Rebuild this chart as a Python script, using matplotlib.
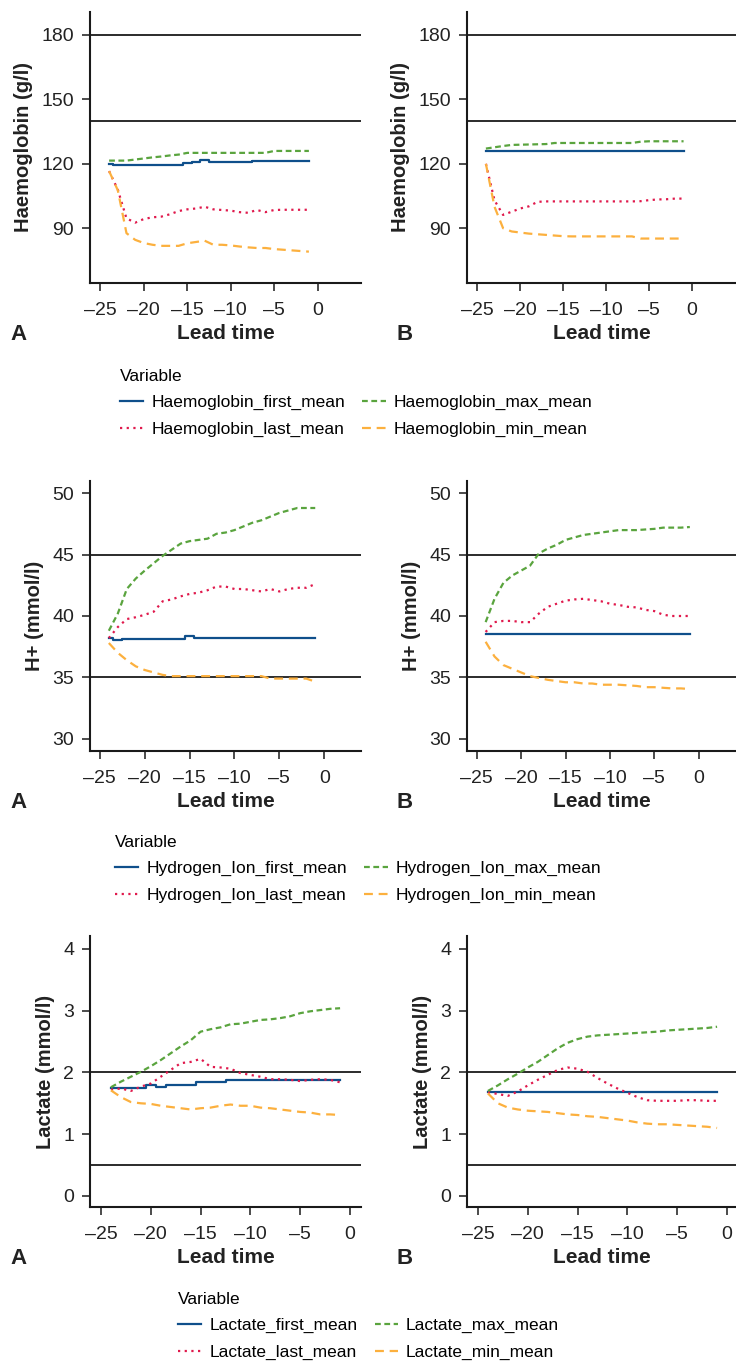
import matplotlib.pyplot as plt
import numpy as np

plt.rcParams['font.family'] = ['Liberation Sans', 'DejaVu Sans']

# données (heures avant l'événement)
lead_time = list(range(-24, 0))

# Haemoglobin, panneau A
hb_a_first = [120.0] + [119.4] * 8 + [120.2, 120.9, 121.7] + [120.8] * 5 + [121.5] * 7
hb_a_last = [116.6, 108.0, 94.6, 92.6, 94.3, 95.1, 95.4, 96.5, 98.0, 98.8, 99.2, 100.0,
             98.8, 98.5, 98.2, 97.5, 97.2, 98.5, 97.5, 98.5, 98.6, 98.6, 98.6, 98.6]
hb_a_max = [121.5, 121.5, 121.5, 122.0, 122.5, 123.0, 123.4, 123.9, 124.3, 125.1] + [125.1] * 9 + [126.0] * 5
hb_a_min = [116.6, 107.7, 87.7, 84.6, 83.1, 82.3, 81.8, 81.8, 81.8, 83.0, 83.6, 84.2,
            82.3, 82.3, 82.0, 81.5, 81.1, 80.8, 80.8, 80.3, 80.0, 79.7, 79.4, 79.1]
# Haemoglobin, panneau B
hb_b_first = [125.8] * 24
hb_b_last = [120.0, 103.0, 96.2, 97.7, 99.2, 100.2, 102.3] + [102.5] * 11 + [102.6, 103.1, 103.4, 103.5, 103.8, 103.8]
hb_b_max = [127.1, 127.7, 128.3, 128.8, 128.9, 129.0, 129.1, 129.2, 129.7] + [129.7] * 9 + [130.3] + [130.5] * 5
hb_b_min = [120.0, 100.0, 90.0, 88.5, 88.0, 87.5, 87.2, 86.9, 86.6, 86.3] + [86.2] * 8 + [85.2] * 6

# H+, panneau A
hp_a_first = [38.2, 38.05] + [38.15] * 7 + [38.35] + [38.2] * 14
hp_a_last = [38.2, 39.1, 39.75, 39.9, 40.1, 40.35, 41.2, 41.35, 41.6, 41.8, 41.9, 42.1,
             42.4, 42.4, 42.2, 42.2, 42.1, 42.0, 42.2, 42.0, 42.2, 42.3, 42.3, 42.6]
hp_a_max = [38.8, 40.2, 42.2, 43.05, 43.7, 44.3, 44.9, 45.4, 45.9, 46.1, 46.2, 46.3,
            46.7, 46.8, 47.0, 47.3, 47.6, 47.8, 48.1, 48.4, 48.6, 48.8, 48.8, 48.8]
hp_a_min = [37.8, 37.0, 36.4, 35.9, 35.6, 35.4, 35.2, 35.1] + [35.1] * 10 + [34.9] * 5 + [34.65]
# H+, panneau B
hp_b_first = [38.55] * 24
hp_b_last = [38.7, 39.5, 39.6, 39.6, 39.5, 39.5, 40.2, 40.75, 41.0, 41.25, 41.35, 41.4,
             41.3, 41.2, 41.0, 40.9, 40.75, 40.7, 40.5, 40.4, 40.1, 40.0, 40.0, 40.0]
hp_b_max = [39.5, 41.4, 42.7, 43.3, 43.7, 44.1, 45.1, 45.5, 45.8, 46.2, 46.4, 46.6,
            46.7, 46.8, 46.9, 47.0, 47.0, 47.0, 47.05, 47.1, 47.2, 47.2, 47.2, 47.25]
hp_b_min = [37.9, 36.7, 36.0, 35.7, 35.4, 35.1, 34.95, 34.8, 34.7, 34.6, 34.6, 34.5,
            34.5, 34.4, 34.4, 34.4, 34.35, 34.3, 34.2, 34.2, 34.15, 34.1, 34.1, 34.05]

# Lactate, panneau A
lac_a_first = [1.74, 1.75, 1.75, 1.75, 1.79, 1.77, 1.80, 1.80, 1.80, 1.84, 1.84, 1.84] + [1.88] * 12
lac_a_last = [1.72, 1.74, 1.70, 1.77, 1.82, 1.93, 2.04, 2.15, 2.17, 2.22, 2.09, 2.08,
              2.06, 1.99, 1.96, 1.93, 1.89, 1.89, 1.88, 1.86, 1.88, 1.89, 1.88, 1.84]
lac_a_max = [1.76, 1.85, 1.93, 2.01, 2.10, 2.20, 2.31, 2.42, 2.52, 2.66, 2.70, 2.73,
             2.78, 2.79, 2.82, 2.85, 2.86, 2.88, 2.91, 2.96, 2.99, 3.01, 3.03, 3.04]
lac_a_min = [1.71, 1.60, 1.52, 1.50, 1.49, 1.46, 1.44, 1.42, 1.40, 1.42, 1.43, 1.46,
             1.48, 1.46, 1.46, 1.43, 1.42, 1.40, 1.38, 1.36, 1.35, 1.32, 1.32, 1.31]
# Lactate, panneau B
lac_b_first = [1.68] * 24
lac_b_last = [1.68, 1.65, 1.62, 1.69, 1.79, 1.88, 1.96, 2.04, 2.08, 2.06, 2.01, 1.91,
              1.82, 1.74, 1.67, 1.60, 1.55, 1.54, 1.54, 1.54, 1.55, 1.55, 1.54, 1.54]
lac_b_max = [1.70, 1.79, 1.89, 1.98, 2.08, 2.17, 2.28, 2.39, 2.48, 2.54, 2.58, 2.60,
             2.61, 2.62, 2.63, 2.64, 2.65, 2.66, 2.68, 2.69, 2.70, 2.71, 2.72, 2.74]
lac_b_min = [1.66, 1.50, 1.43, 1.40, 1.38, 1.37, 1.36, 1.34, 1.32, 1.31, 1.29, 1.28,
             1.26, 1.24, 1.22, 1.19, 1.17, 1.16, 1.16, 1.15, 1.14, 1.13, 1.12, 1.10]

variables = ['Haemoglobin', 'Hydrogen_Ion', 'Lactate']
ylabels = ['Haemoglobin (g/l)', 'H+ (mmol/l)', 'Lactate (mmol/l)']
ref_lines = [[140, 180], [35, 45], [0.5, 2]]
yticks = [[90, 120, 150, 180], [30, 35, 40, 45, 50], [0, 1, 2, 3, 4]]
xticks = [-25, -20, -15, -10, -5, 0]

data = [
    [[hb_a_first, hb_a_last, hb_a_max, hb_a_min], [hb_b_first, hb_b_last, hb_b_max, hb_b_min]],
    [[hp_a_first, hp_a_last, hp_a_max, hp_a_min], [hp_b_first, hp_b_last, hp_b_max, hp_b_min]],
    [[lac_a_first, lac_a_last, lac_a_max, lac_a_min], [lac_b_first, lac_b_last, lac_b_max, lac_b_min]],
]

# styles des 4 séries : first, last, max, min
colors = ['#0f4f8b', '#e0194c', '#5aa43e', '#fcb03e']
styles = ['-', (0, (1, 2)), (0, (2.6, 1.6)), (0, (4, 2.6))]
suffix = ['first_mean', 'last_mean', 'max_mean', 'min_mean']

# mise en page en pixels
W, H = 736, 1362
fig = plt.figure(figsize=(W / 100, H / 100), dpi=100)
rows_px = [(12, 283), (481, 751), (936, 1207)]
cols_px = [(90, 361), (467, 736)]
xlims = [[(-26.2, 5.0), (-26.2, 5.1)], [(-26.1, 4.1), (-26.1, 4.2)], [(-26.1, 1.1), (-26.1, 0.9)]]
ylims = [(64.5, 190.7), (29.0, 51.0), (-0.18, 4.21)]
legend_pos = [(107, 356), (102, 822), (165, 1279)]
ink = '#222222'

for r in range(3):
    top, bot = rows_px[r]
    handles = []
    for c in range(2):
        left, right = cols_px[c]
        ax = fig.add_axes([left / W, 1 - bot / H, (right - left) / W, (bot - top) / H])
        for y in ref_lines[r]:
            ax.axhline(y, color='#1a1a1a', lw=1.3, zorder=1)
        lines = []
        for k in range(4):
            ds = 'steps-mid' if k == 0 else 'default'
            ln, = ax.plot(lead_time, data[r][c][k], color=colors[k], ls=styles[k],
                          lw=1.6, drawstyle=ds, zorder=3)
            lines.append(ln)
        if c == 0:
            handles = lines
        ax.set_xlim(*xlims[r][c])
        ax.set_ylim(*ylims[r])
        ax.set_xticks(xticks)
        ax.set_yticks(yticks[r])
        ax.set_xticklabels([str(t).replace('-', '\u2013') for t in xticks])
        ax.spines['top'].set_visible(False)
        ax.spines['right'].set_visible(False)
        for s in ['left', 'bottom']:
            ax.spines[s].set_linewidth(1.5)
            ax.spines[s].set_color('#1a1a1a')
        ax.tick_params(axis='both', labelsize=14, length=5.5, width=1.1,
                       color='#1a1a1a', labelcolor=ink)
        ax.tick_params(axis='x', pad=8)
        ax.tick_params(axis='y', pad=6)
        ax.set_xlabel('Lead time', fontsize=15, fontweight='bold', color=ink, labelpad=4)
        ax.set_ylabel(ylabels[r], fontsize=14.5, fontweight='bold', color=ink, labelpad=6)
        # lettre du panneau
        fig.text((10 if c == 0 else 397) / W, 1 - (bot + 51) / H, 'AB'[c],
                 fontsize=16, fontweight='bold', color=ink, ha='left', va='center')

    lx, ly = legend_pos[r]
    labels = [variables[r] + '_' + s for s in suffix]
    fig.legend(handles=handles, labels=labels, title='Variable', ncol=2,
               loc='upper left', bbox_to_anchor=(lx / W, 1 - ly / H),
               frameon=False, fontsize=12.5, title_fontsize=12.5, alignment='left',
               handlelength=1.35, handletextpad=0.45, columnspacing=1.0,
               labelspacing=0.64, borderpad=0.75, borderaxespad=0)

fig.savefig('out.png', dpi=100)
